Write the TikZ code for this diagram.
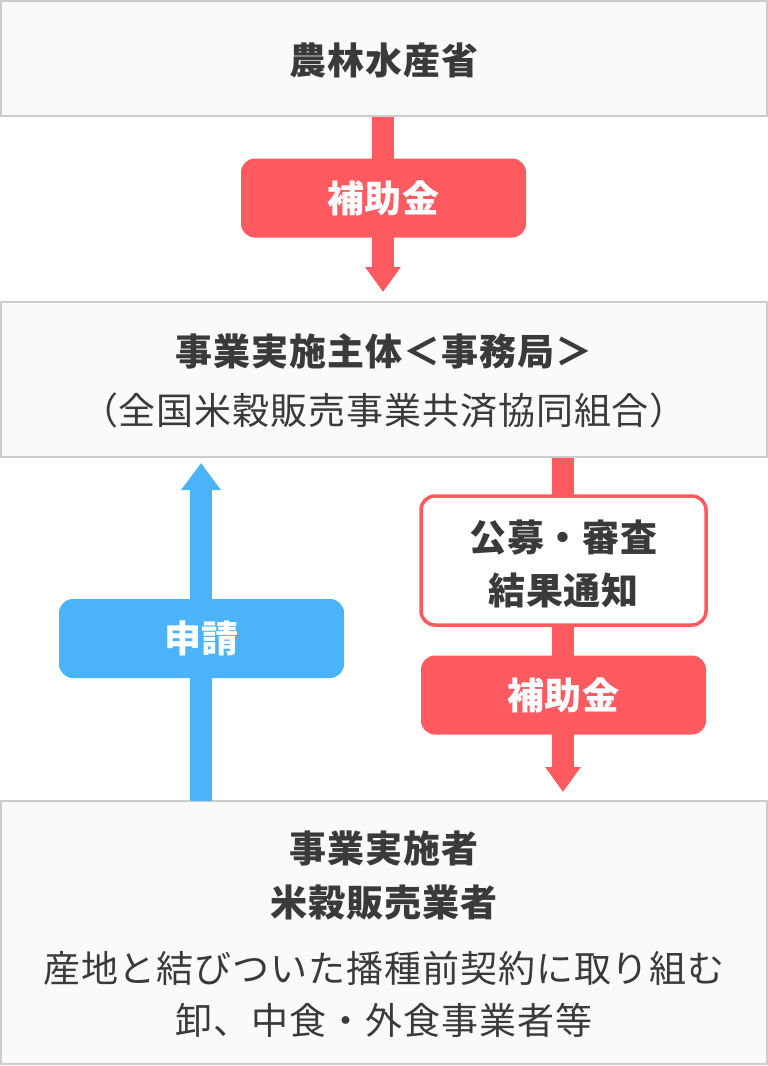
\documentclass[tikz,border=0pt]{standalone}
\usepackage{fontspec}
\setmainfont{Noto Sans CJK JP}[LetterSpace=2.5]
\usetikzlibrary{arrows.meta}
\definecolor{rd}{HTML}{FF5A5F}
\definecolor{bl}{HTML}{4BB3F9}
\definecolor{bd}{HTML}{CCCCCC}
\definecolor{bgf}{HTML}{FAFAFA}
\definecolor{tx}{HTML}{3A3A3A}
\tikzset{
  x=1pt,y=-1pt,
  box/.style={draw=bd,line width=2pt,fill=bgf},
  pill/.style={rounded corners=14pt,minimum width=285pt,minimum height=79pt,inner sep=0pt,text=white,font=\fontsize{37}{40}\selectfont\bfseries},
  title/.style={text=tx,font=\fontsize{37}{40}\selectfont\bfseries,inner sep=0pt},
  plain/.style={text=tx,font=\fontsize{37}{40}\selectfont,inner sep=0pt},
  rarrow/.style={draw=rd,line width=22pt,-{Triangle[width=34pt,length=25pt]}},
  barrow/.style={draw=bl,line width=22pt,-{Triangle[width=38pt,length=27pt]}},
}
\begin{document}
\begin{tikzpicture}
\useasboundingbox[fill=white] (0,0) rectangle (768,1066);
% boxes
\node[box,minimum width=766pt,minimum height=115pt,inner sep=0pt] (top) at (384,58.5) {};
\node[box,minimum width=766pt,minimum height=155pt,inner sep=0pt] (mid) at (384,379.5) {};
\node[box,minimum width=766pt,minimum height=263pt,inner sep=0pt] (bot) at (384,932.5) {};
% arrows
\coordinate (a1s) at (383,117);
\draw[rarrow,shorten >=9pt] (a1s) -- (a1s |- mid.north);
\coordinate (bls) at (201,801);
\draw[barrow,shorten >=5pt] (bls) -- (bls |- mid.south);
\coordinate (rrs) at (563,458);
\draw[rarrow,shorten >=8pt] (rrs) -- (rrs |- bot.north);
% pills
\node[pill,fill=rd] (p1) at (383.5,198) {補助金};
\node[pill,fill=bl] (p2) at (201.5,638.5) {申請};
\node[pill,fill=white,draw=rd,line width=3.5pt,minimum height=129pt,text=tx] (p3) at (563.5,560.5) {};
\node[title] (p3a) at (563.5,538) {公募・審査};
\node[title] (p3b) at (563.5,590) {結果通知};
\node[pill,fill=rd] (p4) at (563.5,695) {補助金};
% texts
\node[title] (t1) at (384,60) {農林水産省};
\node[title] (t2) at (384,351) {事業実施主体＜事務局＞};
\node[plain] (t3) at (384,410) {（全国米穀販売事業共済協同組合）};
\node[title] (t4) at (384,848) {事業実施者};
\node[title] (t5) at (384,903) {米穀販売業者};
\node[plain] (t6) at (384,968) {産地と結びついた播種前契約に取り組む};
\node[plain] (t7) at (384,1020) {卸、中食・外食事業者等};
\end{tikzpicture}
\end{document}
